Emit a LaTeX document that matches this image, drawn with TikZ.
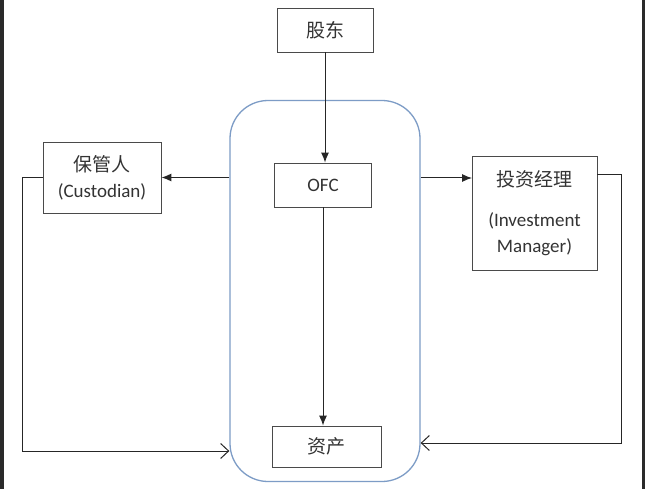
\documentclass[tikz,border=0pt]{standalone}
\usepackage{fontspec}
\setmainfont{Carlito}
\newfontfamily\cjk{Noto Sans CJK SC}
\usetikzlibrary{arrows.meta}
\definecolor{txt}{HTML}{333333}
\definecolor{boxline}{HTML}{4A4A4A}
\definecolor{fundline}{HTML}{7D9CC6}
\definecolor{frame}{HTML}{2A2A2A}
\begin{document}
\begin{tikzpicture}[x=1pt,y=-1pt,
  box/.style={draw=boxline,line width=0.9pt,fill=white,inner sep=0pt,text=txt,align=center,font=\fontsize{19}{26}\selectfont},
  conn/.style={draw=black!85,line width=1pt},
  filled/.style={conn,-{Latex[length=10pt,width=8pt]}},
  openarrow/.style={conn,-{Straight Barb[length=8pt,width=15pt,line width=1pt]}}]
\useasboundingbox (0,0) rectangle (645,489);
\fill[white] (0,0) rectangle (645,489);
\fill[frame] (0,0) rectangle (4,489);
\fill[frame] (642,0) rectangle (645,489);
% fund container
\node[draw=fundline,line width=1.3pt,rounded corners=38pt,minimum width=190pt,minimum height=381pt,inner sep=0pt] (fund) at (325,291) {};
% boxes
\node[box,minimum width=96pt,minimum height=44pt] (sh) at (325,30) {{\cjk 股东}};
\node[box,minimum width=97pt,minimum height=44pt] (ofc) at (323,185) {OFC};
\node[box,minimum width=109pt,minimum height=41pt] (asset) at (326.5,446.5) {{\cjk 资产}};
\node[box,minimum width=118pt,minimum height=71pt] (cust) at (102,177.5) {{\cjk 保管人}\\(Custodian)};
\node[box,minimum width=125pt,minimum height=114pt] (im) at (534.5,213) {{\cjk 投资经理}\\[14pt](Investment\\Manager)};
% helper coordinates
\coordinate (imin) at (472,178);
\coordinate (imout) at (597,175);
\coordinate (cbl) at (22,451);
\coordinate (ibr) at (621,443);
% connectors
\draw[filled] (sh.south) -- (sh.south |- ofc.north);
\draw[filled] (ofc.south) -- (ofc.south |- asset.north);
\draw[filled] (fund.west |- cust.east) -- (cust.east);
\draw[filled] (fund.east |- imin) -- (imin);
\draw[openarrow] (cust.west) -| (cbl) -- (fund.west |- cbl);
\draw[openarrow] (imout) -| (ibr) -- (fund.east |- ibr);
\end{tikzpicture}
\end{document}
